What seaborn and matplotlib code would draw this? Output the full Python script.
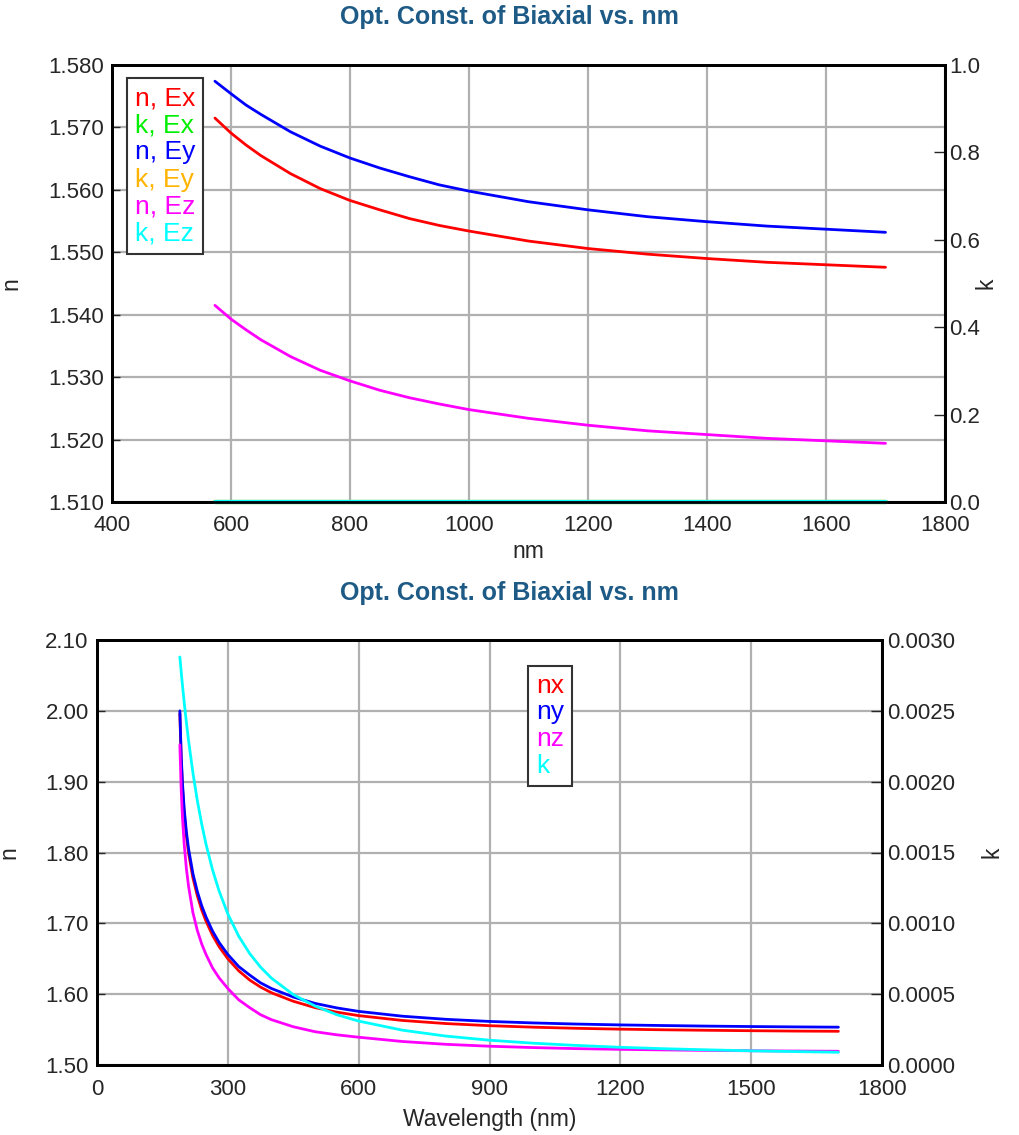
import numpy as np
import pandas as pd
import matplotlib
matplotlib.use("Agg")
import matplotlib.pyplot as plt
from matplotlib.ticker import FormatStrFormatter, MultipleLocator
import seaborn as sns

# ---- top panel: biaxial n / k vs nm (573-1700 nm) ----
wl_top = [573, 600, 625, 650, 700, 750, 800, 850, 900, 950, 1000, 1100, 1200, 1300, 1400,
          1500, 1600, 1700]
n_ex = [1.5715, 1.5691, 1.5672, 1.5655, 1.5626, 1.5602, 1.5583, 1.5568, 1.5554, 1.5543,
        1.5534, 1.5518, 1.5506, 1.5497, 1.5490, 1.5484, 1.5480, 1.5476]
n_ey = [1.5774, 1.5754, 1.5736, 1.5721, 1.5693, 1.5670, 1.5651, 1.5635, 1.5621, 1.5608,
        1.5598, 1.5581, 1.5568, 1.5557, 1.5549, 1.5542, 1.5537, 1.5532]
n_ez = [1.5415, 1.5393, 1.5376, 1.5360, 1.5333, 1.5311, 1.5294, 1.5279, 1.5267, 1.5257,
        1.5248, 1.5234, 1.5223, 1.5214, 1.5208, 1.5202, 1.5198, 1.5194]
k_ex = [0.0] * len(wl_top)
k_ey = [0.0] * len(wl_top)
k_ez = [0.0] * len(wl_top)

# ---- bottom panel: nx, ny, nz, k vs wavelength (190-1700 nm) ----
wl_bot = [190, 193, 196, 200, 205, 210, 220, 230, 240, 250, 265, 280, 300, 325, 350, 375,
          400, 450, 500, 550, 600, 700, 800, 900, 1000, 1100, 1200, 1300, 1400, 1500,
          1600, 1700]
nx = [1.996, 1.932, 1.892, 1.855, 1.823, 1.799, 1.764, 1.739, 1.719, 1.703, 1.683, 1.667,
      1.650, 1.633, 1.620, 1.610, 1.602, 1.590, 1.581, 1.5746, 1.5697, 1.5629, 1.5585,
      1.5555, 1.5534, 1.5518, 1.5506, 1.5497, 1.5490, 1.5484, 1.5479, 1.5476]
ny = [2.000, 1.938, 1.898, 1.861, 1.829, 1.805, 1.770, 1.745, 1.725, 1.709, 1.689, 1.673,
      1.656, 1.639, 1.627, 1.616, 1.608, 1.596, 1.587, 1.5806, 1.5757, 1.5689, 1.5645,
      1.5615, 1.5594, 1.5578, 1.5566, 1.5557, 1.5549, 1.5543, 1.5538, 1.5534]
nz = [1.952, 1.890, 1.849, 1.811, 1.777, 1.752, 1.715, 1.690, 1.671, 1.656, 1.637, 1.623,
      1.608, 1.592, 1.581, 1.571, 1.564, 1.554, 1.547, 1.5426, 1.5392, 1.5332, 1.5292,
      1.5265, 1.5246, 1.5231, 1.5221, 1.5213, 1.5206, 1.5201, 1.5197, 1.5194]
k_bot = [0.002880, 0.002777, 0.002679, 0.002558, 0.002417, 0.002288, 0.002061, 0.001867,
         0.001702, 0.001558, 0.001377, 0.001228, 0.001066, 0.000909, 0.000787, 0.000691,
         0.000613, 0.000497, 0.000416, 0.000355, 0.000310, 0.000246, 0.000204, 0.000175,
         0.000154, 0.000138, 0.000125, 0.000115, 0.000107, 0.000100, 0.0000947, 0.000090]

title = "Opt. Const. of Biaxial vs. nm"
title_color = "#1d5a86"
grid_color = "#b0b0b0"
lw = 2.0

sns.set_style("white")
plt.rcParams["font.family"] = ["Liberation Sans", "DejaVu Sans"]
plt.rcParams["font.size"] = 16


def style_axes(ax, ax2, xpad, lpad, rpad):
    for a in (ax, ax2):
        for s in a.spines.values():
            s.set_linewidth(2.0)
            s.set_color("black")
    ax.tick_params(axis="x", direction="in", length=6, width=1, labelsize=16, pad=xpad)
    ax.tick_params(axis="y", direction="in", length=6, width=1, labelsize=16, pad=lpad)
    ax2.tick_params(axis="y", direction="in", length=8, width=1, labelsize=16, pad=rpad)
    ax.grid(True, color=grid_color, linewidth=1.6)
    ax.set_axisbelow(True)
    ax2.grid(False)


def add_legend(ax, handles, labels, anchor, spacing):
    leg = ax.legend(handles, labels, loc="upper left", bbox_to_anchor=anchor,
                    borderaxespad=0, handlelength=0, handletextpad=0,
                    labelcolor="linecolor", fancybox=False, framealpha=1,
                    edgecolor="#333333", fontsize=19, labelspacing=spacing,
                    borderpad=0.3)
    leg.get_frame().set_linewidth(1.5)
    for h in leg.legend_handles:
        h.set_visible(False)
    return leg


fig = plt.figure(figsize=(10.19, 11.35), dpi=100)

# ---------------- top ----------------
ax = fig.add_axes([112 / 1019, 1 - 502 / 1135, 833 / 1019, 437 / 1135])
ax2 = ax.twinx()

top = pd.DataFrame({"wl": wl_top, "n_ex": n_ex, "n_ey": n_ey, "n_ez": n_ez,
                    "k_ex": k_ex, "k_ey": k_ey, "k_ez": k_ez})
series_top = [("n_ex", "n, Ex", "#ff0000", ax), ("k_ex", "k, Ex", "#00ee00", ax2),
              ("n_ey", "n, Ey", "#0000ff", ax), ("k_ey", "k, Ey", "#ffb400", ax2),
              ("n_ez", "n, Ez", "#ff00ff", ax), ("k_ez", "k, Ez", "#00ffff", ax2)]
handles, labels = [], []
for col, lab, c, a in series_top:
    sns.lineplot(data=top, x="wl", y=col, ax=a, color=c, linewidth=lw, legend=False)
    line = a.lines[-1]
    if a is ax2:
        line.set_clip_on(False)
        line.set_linewidth(3)
    handles.append(line)
    labels.append(lab)

ax.set_xlim(400, 1800)
ax.set_ylim(1.510, 1.580)
ax.xaxis.set_major_locator(MultipleLocator(200))
ax.yaxis.set_major_locator(MultipleLocator(0.01))
ax.yaxis.set_major_formatter(FormatStrFormatter("%.3f"))
ax2.set_ylim(0, 1.0)
ax2.yaxis.set_major_locator(MultipleLocator(0.2))
ax2.yaxis.set_major_formatter(FormatStrFormatter("%.1f"))
ax.set_xlabel("nm", fontsize=16.5)
ax.set_ylabel("n", fontsize=16.5)
ax2.set_ylabel("k", fontsize=16.5)
ax.xaxis.set_label_coords(0.5, -0.087)
ax.yaxis.set_label_coords(-0.108, 0.5)
ax2.yaxis.set_label_coords(1.036, 0.5)
style_axes(ax, ax2, xpad=9, lpad=6, rpad=3)
add_legend(ax2, handles, labels, (0.018, 0.970), 0.12)
fig.text(0.5, 1 - 17 / 1135, title, ha="center", va="center", fontsize=18,
         fontweight="bold", color=title_color)

# ---------------- bottom ----------------
bx = fig.add_axes([97 / 1019, 1 - 1065 / 1135, 785 / 1019, 425 / 1135])
bx2 = bx.twinx()

bot = pd.DataFrame({"wl": wl_bot, "nx": nx, "ny": ny, "nz": nz, "k": k_bot})
series_bot = [("nx", "nx", "#ff0000", bx), ("ny", "ny", "#0000ff", bx),
              ("nz", "nz", "#ff00ff", bx), ("k", "k", "#00ffff", bx2)]
handles, labels = [], []
for col, lab, c, a in series_bot:
    sns.lineplot(data=bot, x="wl", y=col, ax=a, color=c, linewidth=lw, legend=False)
    handles.append(a.lines[-1])
    labels.append(lab)

bx.set_xlim(0, 1800)
bx.set_ylim(1.50, 2.10)
bx.xaxis.set_major_locator(MultipleLocator(300))
bx.yaxis.set_major_locator(MultipleLocator(0.1))
bx.yaxis.set_major_formatter(FormatStrFormatter("%.2f"))
bx2.set_ylim(0, 0.003)
bx2.yaxis.set_major_locator(MultipleLocator(0.0005))
bx2.yaxis.set_major_formatter(FormatStrFormatter("%.4f"))
bx.set_xlabel("Wavelength (nm)", fontsize=16.5)
bx.set_ylabel("n", fontsize=16.5)
bx2.set_ylabel("k", fontsize=16.5)
bx.xaxis.set_label_coords(0.5, -0.1015)
bx.yaxis.set_label_coords(-0.097, 0.5)
bx2.yaxis.set_label_coords(1.126, 0.5)
style_axes(bx, bx2, xpad=10, lpad=6, rpad=4)
add_legend(bx2, handles, labels, (0.549, 0.939), 0.1)
fig.text(0.5, 1 - 593 / 1135, title, ha="center", va="center", fontsize=18,
         fontweight="bold", color=title_color)

fig.savefig("out.png", dpi=100)
